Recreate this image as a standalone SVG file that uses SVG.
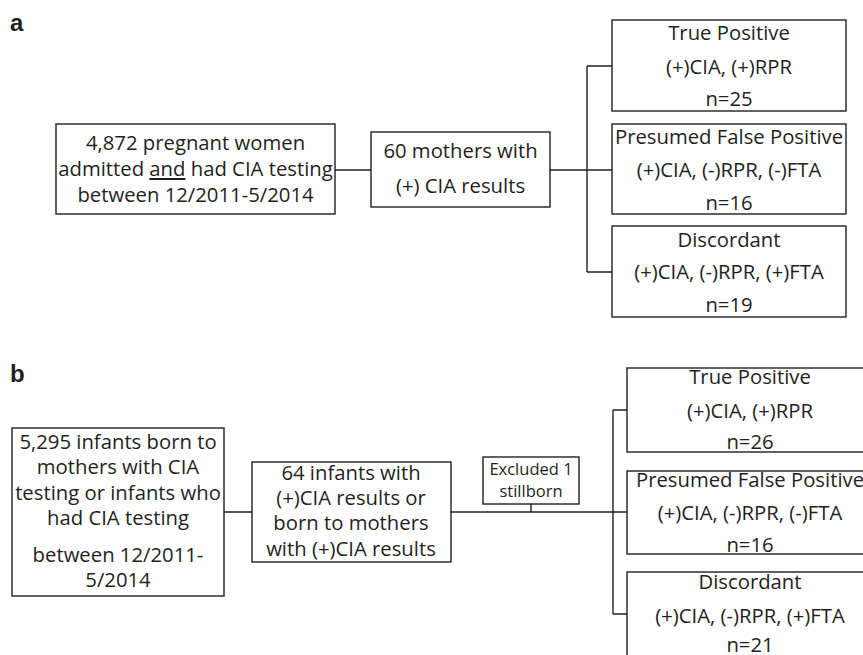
<svg xmlns="http://www.w3.org/2000/svg" width="863" height="655" viewBox="0 0 863 655">
<style>
.bx{fill:#fff;stroke:#231f20;stroke-width:1.4}
.ln{fill:none;stroke:#231f20;stroke-width:1.4}
.t{font-family:"Open Sans",Lato,sans-serif;font-size:20.3px;fill:#231f20;text-anchor:middle}
.s{font-size:16.5px}
.lbl{font-family:"Liberation Sans",Arial,sans-serif;font-weight:bold;font-size:24px;fill:#231f20}
</style>
<rect width="863" height="655" fill="#fff"/>
<text class="lbl" x="10" y="31">a</text>
<text class="lbl" x="10" y="382">b</text>
<g id="connectors">
<path class="ln" d="M335,170H371M550,170H612M587,66V272M587,66H612M587,272H612"/>
<path class="ln" d="M224,512H252M451,512H627M531,504V512M613,410V614M613,410H627M613,614H627"/>
</g>
<g id="a1"><rect class="bx" x="56" y="124" width="279" height="90"/>
<text class="t" x="195.5" y="150">4,872 pregnant women</text>
<text class="t" x="195.5" y="176">admitted <tspan text-decoration="underline">and</tspan> had CIA testing</text>
<text class="t" x="195.5" y="202">between 12/2011-5/2014</text></g>
<g id="a2"><rect class="bx" x="371" y="132" width="179" height="75"/>
<text class="t" x="460.5" y="158">60 mothers with</text>
<text class="t" x="460.5" y="193">(+) CIA results</text></g>
<g id="a3"><rect class="bx" x="612" y="20" width="234" height="91"/>
<text class="t" x="729" y="40">True Positive</text>
<text class="t" x="729" y="74">(+)CIA, (+)RPR</text>
<text class="t" x="729" y="106">n=25</text></g>
<g id="a4"><rect class="bx" x="612" y="124" width="234" height="90"/>
<text class="t" x="729" y="144">Presumed False Positive</text>
<text class="t" x="729" y="177">(+)CIA, (-)RPR, (-)FTA</text>
<text class="t" x="729" y="210">n=16</text></g>
<g id="a5"><rect class="bx" x="612" y="226" width="234" height="91"/>
<text class="t" x="729" y="247">Discordant</text>
<text class="t" x="729" y="279">(+)CIA, (-)RPR, (+)FTA</text>
<text class="t" x="729" y="312">n=19</text></g>
<g id="b1"><rect class="bx" x="12" y="428" width="212" height="168"/>
<text class="t" x="118" y="449">5,295 infants born to</text>
<text class="t" x="118" y="474">mothers with CIA</text>
<text class="t" x="118" y="500">testing or infants who</text>
<text class="t" x="118" y="525">had CIA testing</text>
<text class="t" x="118" y="562">between 12/2011-</text>
<text class="t" x="118" y="587">5/2014</text></g>
<g id="b2"><rect class="bx" x="252" y="462" width="199" height="100"/>
<text class="t" x="351" y="480">64 infants with</text>
<text class="t" x="351" y="505">(+)CIA results or</text>
<text class="t" x="351" y="530">born to mothers</text>
<text class="t" x="351" y="556">with (+)CIA results</text></g>
<g id="b3"><rect class="bx" x="483" y="457" width="96" height="47"/>
<text class="t s" x="531" y="475">Excluded 1</text>
<text class="t s" x="531" y="497">stillborn</text></g>
<g id="b4"><rect class="bx" x="627" y="368" width="260" height="84"/>
<text class="t" x="750" y="384">True Positive</text>
<text class="t" x="750" y="418">(+)CIA, (+)RPR</text>
<text class="t" x="750" y="449">n=26</text></g>
<g id="b5"><rect class="bx" x="627" y="471" width="260" height="83"/>
<text class="t" x="750" y="487">Presumed False Positive</text>
<text class="t" x="750" y="520">(+)CIA, (-)RPR, (-)FTA</text>
<text class="t" x="750" y="552">n=16</text></g>
<g id="b6"><rect class="bx" x="627" y="572" width="260" height="100"/>
<text class="t" x="750" y="589">Discordant</text>
<text class="t" x="750" y="623">(+)CIA, (-)RPR, (+)FTA</text>
<text class="t" x="750" y="652">n=21</text></g>
</svg>
